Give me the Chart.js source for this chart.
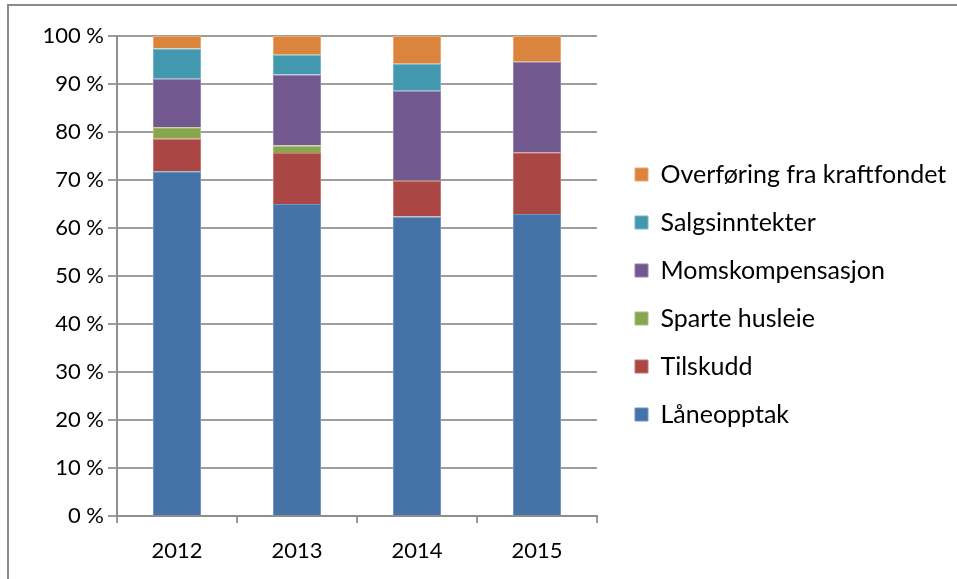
<!DOCTYPE html>
<html>
<head>
<meta charset="utf-8">
<script src="https://cdn.jsdelivr.net/npm/chart.js@4"></script>
<style>
  html, body { margin: 0; padding: 0; background: #fff; overflow: hidden; }
  .frame { position: absolute; left: 7px; top: 4px; width: 2000px; height: 2000px; border: 2px solid #8a8a8a; }
  #chart { position: absolute; left: 0; top: 0; }
</style>
</head>
<body>
<div class="frame"></div>
<canvas id="chart" width="957" height="579"></canvas>
<script>
// kategorier og andeler (%) lest av figuren
var years = ['2012', '2013', '2014', '2015'];
var laneopptak = [71.8, 65.0, 62.4, 62.9];
var tilskudd = [6.8, 10.6, 7.5, 12.9];
var sparteHusleie = [2.4, 1.6, 0, 0];
var momskomp = [10.1, 14.8, 18.7, 18.85];
var salgsinntekter = [6.3, 4.1, 5.6, 0];
var overforing = [2.6, 3.9, 5.8, 5.35];

var FONT = 'Lato';

// flytter legenden litt til høyre/opp og gir den plass helt ut til kanten
var legendShift = {
    id: 'legendShift',
    afterLayout: function(chart) {
        var lg = chart.legend;
        lg.left += 15;
        lg.right = chart.width;
        lg.width = lg.right - lg.left;
        lg.top -= 13; lg.bottom -= 13;
    }
};

function ds(label, data, color, edge) {
    return {
        label: label,
        data: data,
        backgroundColor: color,
        borderColor: edge,
        borderWidth: 1,
        barPercentage: 0.4,
        categoryPercentage: 1.0
    };
}

var config = {
    type: 'bar',
    data: {
        labels: years,
        datasets: [
            ds('Låneopptak', laneopptak, '#4572a7', '#6f93c4'),
            ds('Tilskudd', tilskudd, '#aa4643', '#c57572'),
            ds('Sparte husleie', sparteHusleie, '#89a54e', '#a9c079'),
            ds('Momskompensasjon', momskomp, '#71588f', '#9582ad'),
            ds('Salgsinntekter', salgsinntekter, '#4198af', '#72b7ca'),
            ds('Overføring fra kraftfondet', overforing, '#db843d', '#f0a56a')
        ]
    },
    options: {
        responsive: false,
        animation: false,
        devicePixelRatio: 1,
        layout: { padding: { top: 36, left: 0, right: 161, bottom: 0 } },
        plugins: {
            tooltip: { enabled: false },
            legend: {
                position: 'right',
                reverse: true,
                labels: {
                    boxWidth: 13,
                    boxHeight: 13,
                    padding: 23,
                    color: '#000',
                    font: { family: FONT, size: 25 }
                }
            }
        },
        scales: {
            x: {
                stacked: true,
                grid: {
                    offset: true,
                    drawOnChartArea: false,
                    drawTicks: true,
                    tickLength: 7,
                    color: '#9a9a9a',
                    lineWidth: 2
                },
                border: { color: '#8e8e8e', width: 2 },
                ticks: { color: '#000', padding: 15, font: { family: FONT, size: 22 } },
                afterFit: function(scale) { scale.height = 63; }
            },
            y: {
                stacked: true,
                min: 0,
                max: 100,
                grid: { color: '#9d9d9d', lineWidth: 2, tickLength: 9 },
                border: { color: '#8e8e8e', width: 2 },
                ticks: {
                    stepSize: 10,
                    color: '#000',
                    padding: 4,
                    font: { family: FONT, size: 22 },
                    callback: function(v) { return v + ' %'; }
                },
                afterFit: function(scale) { scale.width = 117; }
            }
        }
    },
    plugins: [legendShift]
};

var ctx = document.getElementById('chart').getContext('2d');
var chart = new Chart(ctx, config);
</script>
</body>
</html>
